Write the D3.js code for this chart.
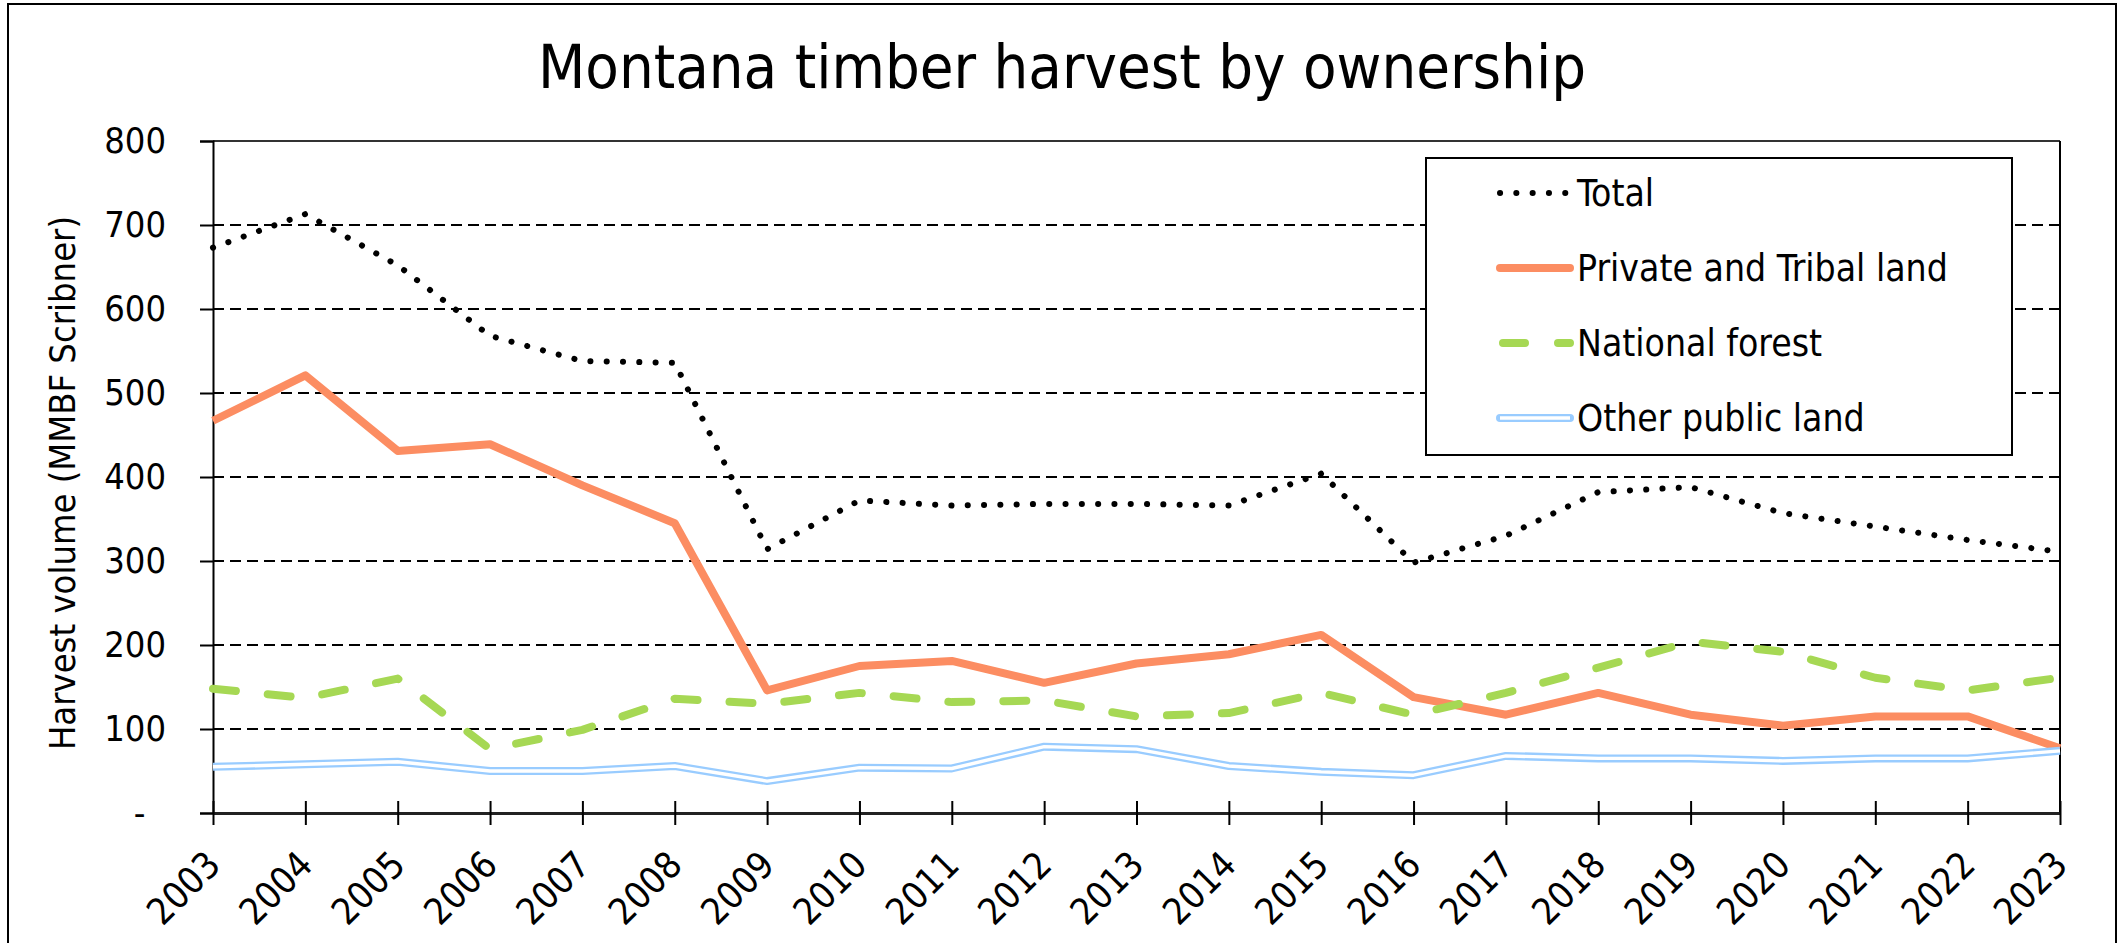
<!DOCTYPE html>
<html>
<head>
<meta charset="utf-8">
<script src="https://cdn.jsdelivr.net/npm/d3@7"></script>
<style>
  html, body { margin: 0; padding: 0; background: #fff; }
  svg { display: block; }
  text { font-family: "DejaVu Sans Condensed", "DejaVu Sans", sans-serif; fill: #000; }
</style>
</head>
<body>
<svg width="2119" height="943"></svg>
<script>
const years = [2003, 2004, 2005, 2006, 2007, 2008, 2009, 2010, 2011, 2012, 2013,
  2014, 2015, 2016, 2017, 2018, 2019, 2020, 2021, 2022, 2023];
const total = [673, 713, 652, 568, 538, 536, 314, 372, 366, 368, 368,
  366, 404, 298, 330, 382, 388, 357, 341, 325, 311];
const privateTribal = [467, 521, 431, 439, 390, 345, 146, 175, 181, 155, 178,
  189, 212, 138, 117, 143, 117, 104, 115, 115, 77];
const nationalForest = [148, 137, 160, 76, 99, 136, 130, 143, 132, 134, 115,
  119, 143, 117, 143, 173, 204, 192, 161, 146, 161];
const otherPublic = [55, 58, 61, 50, 50, 56, 38, 54, 53, 79, 76,
  56, 49, 45, 68, 65, 65, 62, 65, 65, 74];
const yTicks = [0, 100, 200, 300, 400, 500, 600, 700, 800];
const seriesNames = ["Total", "Private and Tribal land", "National forest", "Other public land"];

const svg = d3.select("svg");
const FONT = "\"DejaVu Sans Condensed\", \"DejaVu Sans\", sans-serif";

const plot = { left: 213, right: 2060, top: 141, bottom: 813 };

const x = d3.scaleLinear().domain([2003, 2023]).range([plot.left, plot.right]);
const y = d3.scaleLinear().domain([0, 800]).range([plot.bottom, plot.top]);

// outer chart border
svg.append("rect")
  .attr("x", 8).attr("y", 4)
  .attr("width", 2108).attr("height", 980)
  .attr("fill", "none")
  .attr("stroke", "#000")
  .attr("stroke-width", 2);

// title
svg.append("text")
  .attr("x", 1062)
  .attr("y", 88)
  .attr("text-anchor", "middle")
  .attr("font-size", 61)
  .text("Montana timber harvest by ownership");

// gridlines
svg.append("g")
  .selectAll("line")
  .data(yTicks.filter((d) => d > 0))
  .join("line")
  .attr("x1", plot.left).attr("x2", plot.right)
  .attr("y1", (d) => y(d)).attr("y2", (d) => y(d))
  .attr("stroke", "#000")
  .attr("stroke-width", 2)
  .attr("stroke-dasharray", "11,6");

// top and right edge of plot area
svg.append("line")
  .attr("x1", plot.left).attr("x2", plot.right)
  .attr("y1", plot.top).attr("y2", plot.top)
  .attr("stroke", "#333").attr("stroke-width", 2);
svg.append("line")
  .attr("x1", plot.right).attr("x2", plot.right)
  .attr("y1", plot.top).attr("y2", plot.bottom)
  .attr("stroke", "#000").attr("stroke-width", 2);

// y axis
const yAxis = d3.axisLeft(y)
  .tickValues(yTicks)
  .tickSize(13)
  .tickPadding(34)
  .tickFormat((d) => (d === 0 ? "-\u00a0\u00a0" : d));

svg.append("g")
  .attr("transform", `translate(${plot.left},0)`)
  .call(yAxis)
  .call((g) => g.select(".domain").attr("stroke", "#000").attr("stroke-width", 2))
  .call((g) => g.selectAll(".tick line").attr("stroke", "#000").attr("stroke-width", 2))
  .call((g) => g.selectAll(".tick text")
    .attr("font-size", 36)
    .attr("font-family", FONT)
    .attr("fill", "#000"));

// x axis
const xAxis = d3.axisBottom(x)
  .tickValues(years)
  .tickSize(12)
  .tickSizeOuter(0)
  .tickFormat(d3.format("d"));

svg.append("g")
  .attr("transform", `translate(0,${plot.bottom})`)
  .call(xAxis)
  .call((g) => g.select(".domain").attr("stroke", "#222").attr("stroke-width", 3))
  .call((g) => g.selectAll(".tick line")
    .attr("y1", -12)
    .attr("stroke", "#000").attr("stroke-width", 2))
  .call((g) => g.selectAll(".tick text")
    .attr("font-size", 37)
    .attr("font-family", FONT)
    .attr("fill", "#000")
    .attr("text-anchor", "end")
    .attr("dy", null)
    .attr("y", 0)
    .attr("transform", "translate(9,54) rotate(-45)"));

// y axis title
svg.append("text")
  .attr("transform", `translate(75,${(plot.top + plot.bottom) / 2 + 6}) rotate(-90)`)
  .attr("text-anchor", "middle")
  .attr("font-size", 36)
  .text("Harvest volume (MMBF Scribner)");

// series
const line = d3.line()
  .x((d, i) => x(years[i]))
  .y((d) => y(d));

const styles = [
  { values: total, stroke: "#000", width: 6, dash: "0.1,16.2", cap: "round" },
  { values: privateTribal, stroke: "#fc8d62", width: 8, dash: null, cap: "butt" },
  { values: nationalForest, stroke: "#a6d854", width: 8, dash: "23,32", cap: "round" },
  { values: otherPublic, stroke: "#99ccff", width: 8, dash: null, cap: "butt", inner: "#fff" },
];

const series = svg.append("g");
styles.forEach((s) => {
  series.append("path")
    .datum(s.values)
    .attr("d", line)
    .attr("fill", "none")
    .attr("stroke", s.stroke)
    .attr("stroke-width", s.width)
    .attr("stroke-linejoin", "round")
    .attr("stroke-linecap", s.cap)
    .attr("stroke-dasharray", s.dash);
  if (s.inner) {
    series.append("path")
      .datum(s.values)
      .attr("d", line)
      .attr("fill", "none")
      .attr("stroke", s.inner)
      .attr("stroke-width", 3.4)
      .attr("stroke-linejoin", "round");
  }
});

// legend
const legend = svg.append("g").attr("transform", "translate(1426,158)");
legend.append("rect")
  .attr("width", 586).attr("height", 297)
  .attr("fill", "#fff")
  .attr("stroke", "#000")
  .attr("stroke-width", 2);

const item = legend.selectAll("g.item")
  .data(styles.map((s, i) => ({ ...s, name: seriesNames[i] })))
  .join("g")
  .attr("class", "item")
  .attr("transform", (d, i) => `translate(0,${35 + i * 75})`);

item.append("line")
  .attr("x1", 74).attr("x2", 144)
  .attr("stroke", (d) => d.stroke)
  .attr("stroke-width", (d) => d.width)
  .attr("stroke-linecap", "round")
  .attr("stroke-dasharray", (d) => (d.name === "National forest" ? "22,33" : d.dash))
  .attr("stroke-dashoffset", (d) => (d.name === "National forest" ? -3 : null));

item.filter((d) => d.inner)
  .append("line")
  .attr("x1", 74).attr("x2", 144)
  .attr("stroke", "#fff")
  .attr("stroke-width", 3.4);

item.append("text")
  .attr("x", 151)
  .attr("dy", "0.36em")
  .attr("font-size", 37)
  .text((d) => d.name);
</script>
</body>
</html>
